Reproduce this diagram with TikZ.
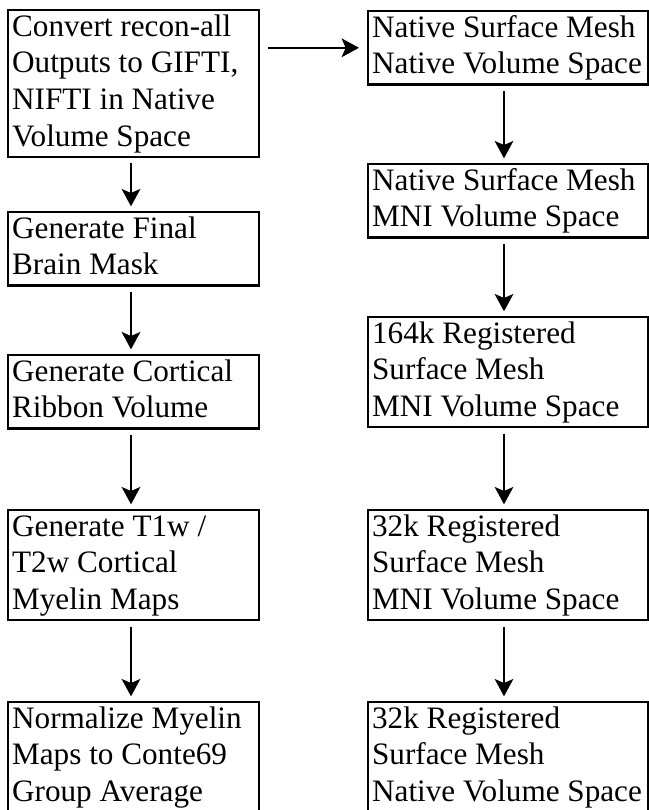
\documentclass[tikz,border=0pt]{standalone}
\usepackage{fontspec}
\setmainfont{Liberation Serif}
\usetikzlibrary{arrows.meta}
\newcommand\ls{\rule[-8pt]{0pt}{27.5pt}}
\begin{document}
\begin{tikzpicture}[x=0.75pt,y=-0.75pt,
  box/.style={draw,line width=1.7pt,anchor=north west,inner xsep=3pt,inner ysep=0pt,align=flush left,font=\fontsize{23.4}{27.5}\selectfont},
  lbox/.style={box,text width=182pt},
  rbox/.style={box,text width=204pt},
  arr/.style={line width=1.6pt,-{Stealth[length=13pt,width=14pt,inset=3pt]},shorten <=4pt,shorten >=3.5pt}]
\useasboundingbox (0,0) rectangle (649,810);
\clip (0,0) rectangle (649,810);
\node[lbox] (L1) at (7,9) {\ls Convert recon-all\\\ls Outputs to GIFTI,\\\ls NIFTI in Native\\\ls Volume Space};
\node[lbox] (L2) at (7,211) {\ls Generate Final\\\ls Brain Mask};
\node[lbox] (L3) at (7,354) {\ls Generate Cortical\\\ls Ribbon Volume};
\node[lbox] (L4) at (7,509) {\ls Generate T1w /\\\ls T2w Cortical\\\ls Myelin Maps};
\node[lbox] (L5) at (7,701) {\ls Normalize Myelin\\\ls Maps to Conte69\\\ls Group Average};
\node[rbox] (R1) at (367,10) {\ls Native Surface Mesh\\\ls Native Volume Space};
\node[rbox] (R2) at (367,163) {\ls Native Surface Mesh\\\ls MNI Volume Space};
\node[rbox] (R3) at (367,316) {\ls 164k Registered\\\ls Surface Mesh\\\ls MNI Volume Space};
\node[rbox] (R4) at (367,509) {\ls 32k Registered\\\ls Surface Mesh\\\ls MNI Volume Space};
\node[rbox] (R5) at (367,701) {\ls 32k Registered\\\ls Surface Mesh\\\ls Native Volume Space};
\coordinate (ra) at (504,0);
\coordinate (la) at (131,0);
\draw[arr] (L1.south -| la) -- (L2.north -| la);
\draw[arr] (L2.south -| la) -- (L3.north -| la);
\draw[arr] (L3.south -| la) -- (L4.north -| la);
\draw[arr] (L4.south -| la) -- (L5.north -| la);
\draw[arr] (R1.south -| ra) -- (R2.north -| ra);
\draw[arr] (R2.south -| ra) -- (R3.north -| ra);
\draw[arr] (R3.south -| ra) -- (R4.north -| ra);
\draw[arr] (R4.south -| ra) -- (R5.north -| ra);
\draw[arr,shorten <=6pt,shorten >=6pt] (L1.east |- R1.west) -- (R1.west);
\end{tikzpicture}
\end{document}
